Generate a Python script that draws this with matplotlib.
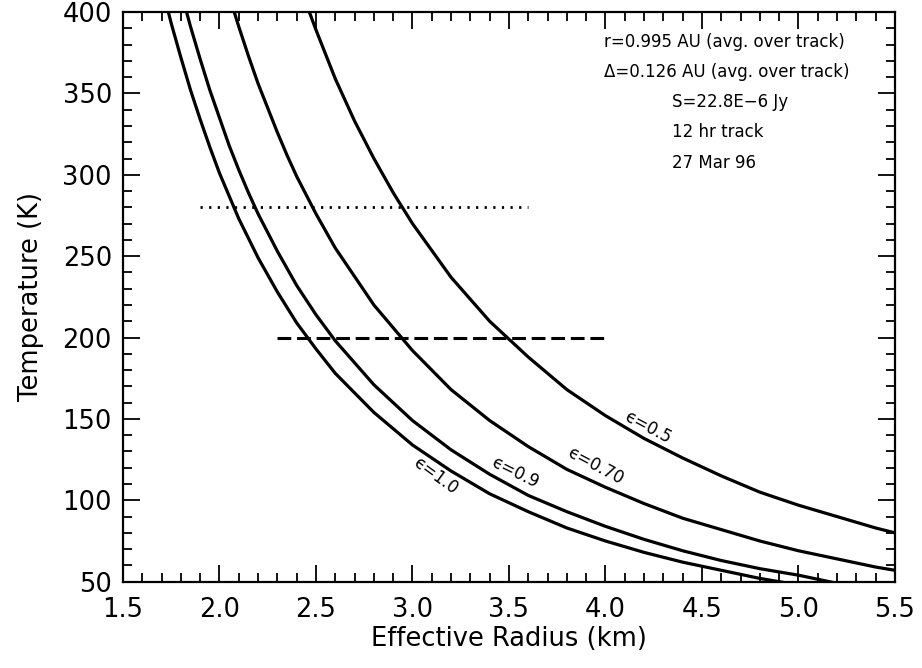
import matplotlib
matplotlib.use("Agg")
import matplotlib.pyplot as plt
from matplotlib.ticker import MultipleLocator, FormatStrFormatter

plt.rcParams["font.family"] = ["DejaVu Sans"]

# ---- curves: effective radius (km) vs temperature (K) ----
r_e10 = [1.7, 1.72, 1.75, 1.8, 1.85, 1.9, 1.95, 2.0, 2.05, 2.1, 2.15, 2.2, 2.3,
         2.4, 2.5, 2.6, 2.8, 3.0, 3.2, 3.4, 3.6, 3.8, 4.0, 4.2, 4.4, 4.6, 4.8, 5.0]
t_e10 = [417, 407, 393, 372, 352, 334, 317, 301, 287, 273, 261, 249, 228,
         209, 193, 178, 154, 134, 118, 104, 93, 83, 75, 68, 62, 57, 52, 48]

r_e09 = [1.8, 1.82, 1.85, 1.9, 1.95, 2.0, 2.05, 2.1, 2.15, 2.2, 2.3, 2.4, 2.5,
         2.6, 2.8, 3.0, 3.2, 3.4, 3.6, 3.8, 4.0, 4.2, 4.4, 4.6, 4.8, 5.0, 5.2]
t_e09 = [413, 404, 391, 371, 352, 335, 318, 303, 289, 276, 253, 232, 214,
         198, 171, 149, 131, 116, 103, 93, 84, 76, 69, 63, 58, 54, 49]

r_e07 = [2.0, 2.05, 2.1, 2.15, 2.2, 2.25, 2.3, 2.35, 2.4, 2.5, 2.6, 2.8, 3.0,
         3.2, 3.4, 3.6, 3.8, 4.0, 4.2, 4.4, 4.6, 4.8, 5.0, 5.2, 5.4, 5.5]
t_e07 = [431, 410, 391, 373, 356, 341, 326, 312, 299, 276, 255, 220, 192,
         168, 149, 133, 119, 108, 98, 89, 82, 75, 69, 64, 59, 57]

r_e05 = [2.4, 2.45, 2.5, 2.55, 2.6, 2.65, 2.7, 2.8, 2.9, 3.0, 3.2, 3.4, 3.6,
         3.8, 4.0, 4.2, 4.4, 4.6, 4.8, 5.0, 5.2, 5.4, 5.5]
t_e05 = [422, 405, 389, 374, 359, 346, 333, 310, 289, 270, 237, 210, 188,
         168, 152, 138, 126, 115, 105, 97, 90, 83, 80]

# reference temperature lines
dot_x = [1.9, 3.6]
dot_t = [280, 280]
dash_x = [2.3, 4.0]
dash_t = [200, 200]

# curve labels: text, x, y, rotation
curve_labels = [("\u03f5=1.0", 3.12, 115, -36),
                ("\u03f5=0.9", 3.53, 117, -26),
                ("\u03f5=0.70", 3.95, 121, -28),
                ("\u03f5=0.5", 4.22, 145, -28)]

info_lines = ["r=0.995 AU (avg. over track)",
              "\u0394=0.126 AU (avg. over track)",
              "S=22.8E\u22126 Jy",
              "12 hr track",
              "27 Mar 96"]

fig = plt.figure(figsize=(9.22, 6.68), dpi=100)
ax = fig.add_axes([0.1334, 0.1292, 0.9707 - 0.1334, 0.982 - 0.1292])

for r, t in [(r_e10, t_e10), (r_e09, t_e09), (r_e07, t_e07), (r_e05, t_e05)]:
    ax.plot(r, t, color="black", lw=2.3, solid_joinstyle="round")

ax.plot(dot_x, dot_t, color="black", lw=2.0, linestyle=(0, (0.8, 2.3)))
ax.plot(dash_x, dash_t, color="black", lw=2.2, linestyle=(0, (4.5, 1.9)))

for txt, x, y, rot in curve_labels:
    ax.text(x, y, txt, rotation=rot, ha="center", va="center", fontsize=12,
            rotation_mode="anchor")

for i, line in enumerate(info_lines):
    xpos = 0.623 if i < 2 else 0.711
    ax.text(xpos, 0.947 - i * 0.0528, line, transform=ax.transAxes,
            ha="left", va="center", fontsize=12)

ax.set_xlim(1.5, 5.5)
ax.set_ylim(50, 400)
ax.xaxis.set_major_locator(MultipleLocator(0.5))
ax.xaxis.set_minor_locator(MultipleLocator(0.1))
ax.yaxis.set_major_locator(MultipleLocator(50))
ax.yaxis.set_minor_locator(MultipleLocator(10))
ax.xaxis.set_major_formatter(FormatStrFormatter("%.1f"))
ax.tick_params(which="both", direction="in", top=True, right=True,
               labelsize=18.5, width=1.3)
ax.tick_params(which="major", length=12)
ax.tick_params(which="minor", length=6.5)
ax.tick_params(axis="x", pad=11)
ax.tick_params(axis="y", pad=8)
for s in ax.spines.values():
    s.set_linewidth(1.6)

ax.set_xlabel("Effective Radius (km)", fontsize=18.5, labelpad=2)
ax.set_ylabel("Temperature (K)", fontsize=18.5, labelpad=13)

fig.savefig("out.png", dpi=100)
